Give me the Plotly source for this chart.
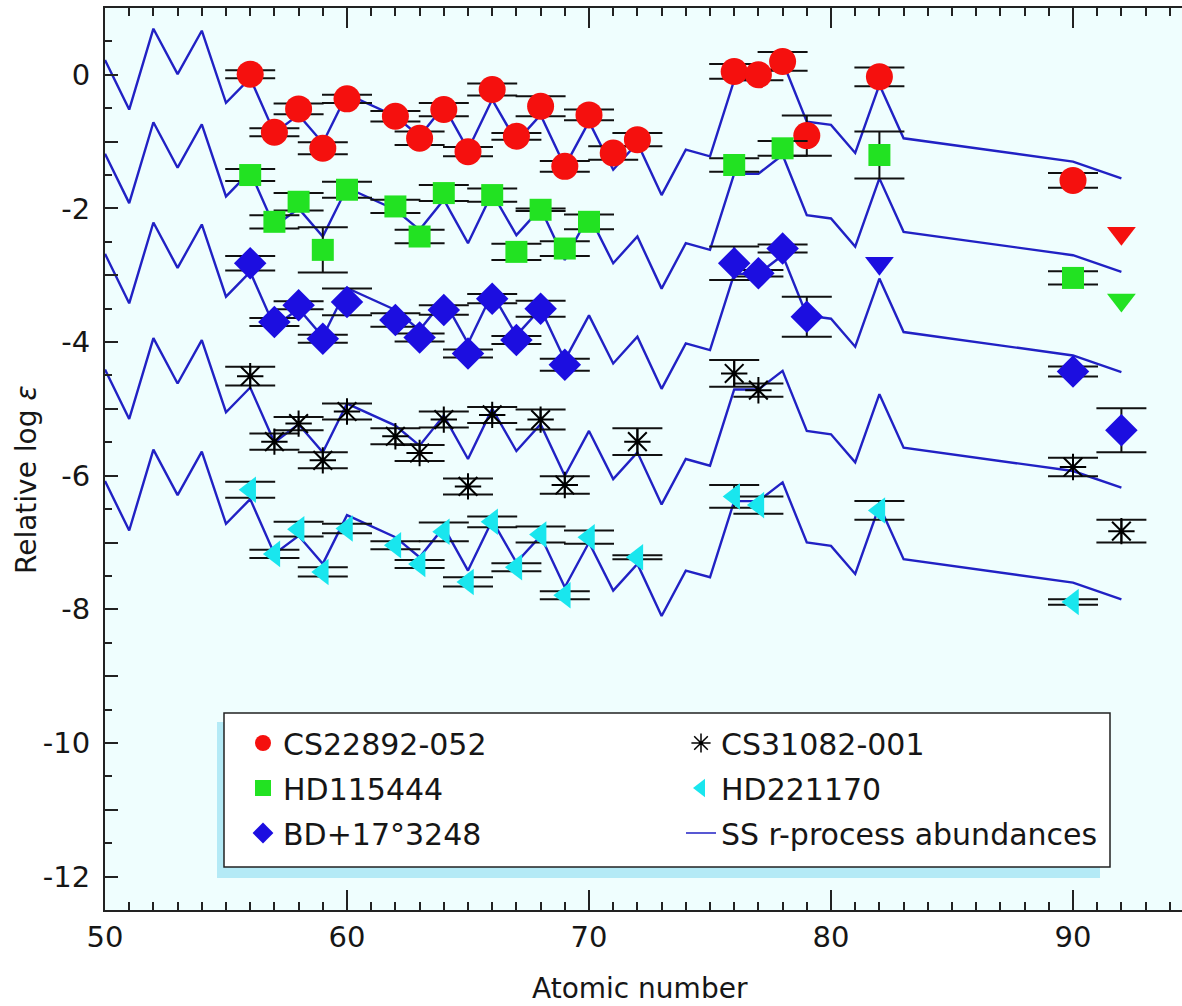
import plotly.graph_objects as go

# ---- Solar-system r-process pattern (top curve) and per-star vertical offsets ----
ss_z = [50, 51, 52, 53, 54, 55, 56, 57, 58, 59, 60, 62, 63, 64, 65, 66, 67, 68, 69, 70,
        71, 72, 73, 74, 75, 76, 77, 78, 79, 80, 81, 82, 83, 90, 92]
ss_logeps = [0.22, -0.52, 0.69, 0.01, 0.66, -0.42, -0.05, -0.87, -0.60, -1.02, -0.29,
             -0.62, -0.92, -0.47, -1.12, -0.37, -1.00, -0.60, -1.37, -0.70, -1.42, -1.02,
             -1.80, -1.12, -1.22, -0.08, -0.08, 0.20, -0.70, -0.75, -1.17, -0.15, -0.95,
             -1.30, -1.55]
ss_offsets = [0.0, -1.40, -2.90, -4.63, -6.30]

# ---- Stellar abundances ----
cs22892_z = [56, 57, 58, 59, 60, 62, 63, 64, 65, 66, 67, 68, 69, 70, 71, 72, 76, 77, 78, 79, 82, 90]
cs22892_y = [0.01, -0.86, -0.51, -1.10, -0.36, -0.62, -0.95, -0.52, -1.15, -0.22, -0.92, -0.47,
             -1.37, -0.60, -1.17, -0.97, 0.05, 0.00, 0.20, -0.91, -0.03, -1.58]
cs22892_err = [0.06, 0.06, 0.08, 0.09, 0.06, 0.08, 0.10, 0.10, 0.07, 0.09, 0.05, 0.15,
               0.08, 0.08, 0.10, 0.10, 0.11, 0.08, 0.14, 0.30, 0.14, 0.11]
cs22892_lim_z = [92]
cs22892_lim_y = [-2.37]

hd115444_z = [56, 57, 58, 59, 60, 62, 63, 64, 66, 67, 68, 69, 70, 76, 78, 82, 90]
hd115444_y = [-1.50, -2.20, -1.90, -2.62, -1.72, -1.97, -2.42, -1.77, -1.80, -2.65, -2.02,
              -2.60, -2.20, -1.35, -1.10, -1.20, -3.04]
hd115444_err = [0.09, 0.10, 0.13, 0.34, 0.12, 0.10, 0.10, 0.12, 0.10, 0.12, 0.02,
                0.11, 0.11, 0.10, 0.11, 0.35, 0.10]
hd115444_lim_z = [92]
hd115444_lim_y = [-3.37]

bd17_z = [56, 57, 58, 59, 60, 62, 63, 64, 65, 66, 67, 68, 69, 76, 77, 78, 79, 90, 92]
bd17_y = [-2.82, -3.70, -3.45, -3.95, -3.40, -3.67, -3.93, -3.52, -4.17, -3.35, -3.97,
          -3.50, -4.34, -2.82, -2.97, -2.60, -3.62, -4.44, -5.32]
bd17_err = [0.11, 0.06, 0.06, 0.06, 0.20, 0.10, 0.06, 0.07, 0.06, 0.07, 0.06, 0.12,
            0.09, 0.25, 0.05, 0.06, 0.30, 0.075, 0.33]
bd17_lim_z = [82]
bd17_lim_y = [-2.82]

cs31082_z = [56, 57, 58, 59, 60, 62, 63, 64, 65, 66, 68, 69, 72, 76, 77, 90, 92]
cs31082_y = [-4.51, -5.49, -5.22, -5.77, -5.04, -5.41, -5.66, -5.16, -6.16, -5.09, -5.16,
             -6.14, -5.49, -4.47, -4.72, -5.87, -6.83]
cs31082_err = [0.14, 0.12, 0.10, 0.12, 0.12, 0.12, 0.12, 0.12, 0.12, 0.12, 0.15, 0.13,
               0.20, 0.20, 0.10, 0.14, 0.17]

hd221170_z = [56, 57, 58, 59, 60, 62, 63, 64, 65, 66, 67, 68, 69, 70, 72, 76, 77, 82, 90]
hd221170_y = [-6.21, -7.17, -6.80, -7.44, -6.79, -7.04, -7.32, -6.84, -7.59, -6.69, -7.37,
              -6.88, -7.79, -6.92, -7.22, -6.31, -6.44, -6.52, -7.89]
hd221170_err = [0.12, 0.06, 0.11, 0.07, 0.07, 0.06, 0.06, 0.14, 0.07, 0.08, 0.06, 0.12,
                0.06, 0.10, 0.03, 0.17, 0.13, 0.14, 0.04]

star_names = ["CS22892-052", "HD115444", "BD+17°3248", "CS31082-001", "HD221170"]
ss_name = "SS r-process abundances"

y_tick_values = list(range(-12, 1))
y_tick_labels = [str(v) if v % 2 == 0 else "" for v in y_tick_values]
x_tick_values = [50, 60, 70, 80, 90]
x_tick_labels = ["50", "60", "70", "80", "90"]

# ---- Styling ----
FONT = "DejaVu Sans"
RED, GREEN, BLUE, BLACK, CYAN = "#f5100e", "#22e222", "#1c0ee0", "#000000", "#19e6ee"
LINE_BLUE = "#2121c4"
PLOT_BG = "#effefe"
INK = "#161616"

W, H = 1182, 1006
M_L, M_R, M_T, M_B = 105, 0, 8, 96
PW, PH = W - M_L - M_R, H - M_T - M_B


def px_x(p):
    return (p - M_L) / PW


def px_y(p):
    return (H - M_B - p) / PH


fig = go.Figure()

# scaled solar-system curves
for off in ss_offsets:
    fig.add_trace(go.Scatter(
        x=ss_z, y=[v + off for v in ss_logeps], mode="lines",
        line=dict(color=LINE_BLUE, width=2.4), showlegend=False, hoverinfo="skip"))


def err(vals):
    return dict(type="data", array=vals, visible=True, color="#111111",
                thickness=2, width=25)


fig.add_trace(go.Scatter(x=cs22892_z, y=cs22892_y, mode="markers", error_y=err(cs22892_err),
                         marker=dict(symbol="circle", size=27, color=RED), showlegend=False))
fig.add_trace(go.Scatter(x=cs22892_lim_z, y=cs22892_lim_y, mode="markers",
                         marker=dict(symbol="triangle-down", size=25, color=RED), showlegend=False))

fig.add_trace(go.Scatter(x=hd115444_z, y=hd115444_y, mode="markers", error_y=err(hd115444_err),
                         marker=dict(symbol="square", size=22, color=GREEN), showlegend=False))
fig.add_trace(go.Scatter(x=hd115444_lim_z, y=hd115444_lim_y, mode="markers",
                         marker=dict(symbol="triangle-down", size=25, color=GREEN), showlegend=False))

fig.add_trace(go.Scatter(x=bd17_z, y=bd17_y, mode="markers", error_y=err(bd17_err),
                         marker=dict(symbol="diamond", size=25, color=BLUE), showlegend=False))
fig.add_trace(go.Scatter(x=bd17_lim_z, y=bd17_lim_y, mode="markers",
                         marker=dict(symbol="triangle-down", size=25, color=BLUE), showlegend=False))

fig.add_trace(go.Scatter(x=cs31082_z, y=cs31082_y, mode="markers", error_y=err(cs31082_err),
                         marker=dict(symbol="asterisk-open", size=22, color=BLACK,
                                     line=dict(color=BLACK, width=2)), showlegend=False))

fig.add_trace(go.Scatter(x=hd221170_z, y=hd221170_y, mode="markers", error_y=err(hd221170_err),
                         marker=dict(symbol="triangle-left", size=23, color=CYAN), showlegend=False))

# legend entries (two columns -> two legends)
leg_font = dict(family=FONT, size=30, color=INK)
entries = [
    ("legend", star_names[0], dict(symbol="circle", size=16, color=RED), None),
    ("legend", star_names[1], dict(symbol="square", size=16, color=GREEN), None),
    ("legend", star_names[2], dict(symbol="diamond", size=16, color=BLUE), None),
    ("legend2", star_names[3], dict(symbol="asterisk-open", size=16, color=BLACK,
                                    line=dict(color=BLACK, width=1.5)), None),
    ("legend2", star_names[4], dict(symbol="triangle-left", size=16, color=CYAN), None),
    ("legend2", ss_name, None, dict(color=LINE_BLUE, width=1.5)),
]
for i, (lg, name, mk, ln) in enumerate(entries):
    if ln is None:
        fig.add_trace(go.Scatter(x=[None], y=[None], mode="markers", name=name, marker=mk,
                                 legend=lg, legendgroup=f"g{i}", showlegend=True))
    else:
        fig.add_trace(go.Scatter(x=[None], y=[None], mode="lines", name=name, line=ln,
                                 legend=lg, legendgroup=f"g{i}", showlegend=True))

# legend frame with offset shadow
fig.add_shape(type="rect", xref="paper", yref="paper",
              x0=px_x(217), x1=px_x(1100), y0=px_y(878), y1=px_y(722),
              fillcolor="#b4eaf6", line=dict(width=0), layer="below")
fig.add_shape(type="rect", xref="paper", yref="paper",
              x0=px_x(224), x1=px_x(1110), y0=px_y(867), y1=px_y(713),
              fillcolor="#ffffff", line=dict(color="#222222", width=1.5), layer="below")

common_leg = dict(bgcolor="rgba(0,0,0,0)", borderwidth=0, font=leg_font,
                  tracegroupgap=3, traceorder="grouped", itemsizing="trace",
                  xanchor="left", yanchor="top", valign="middle")

fig.update_layout(
    width=W, height=H,
    margin=dict(l=M_L, r=M_R, t=M_T, b=M_B),
    paper_bgcolor="#ffffff", plot_bgcolor=PLOT_BG,
    font=dict(family=FONT, size=29, color=INK),
    legend=dict(x=px_x(243), y=px_y(717), **common_leg),
    legend2=dict(x=px_x(681), y=px_y(717), **common_leg),
    xaxis=dict(range=[50, 50 + PW / 24.2], tickvals=x_tick_values, ticktext=x_tick_labels,
               ticks="inside", ticklen=20,
               tickwidth=1.5, tickcolor="#222222", showline=True, linecolor="#222222",
               linewidth=2, mirror="ticks", showgrid=False, zeroline=False,
               ticklabelstandoff=0, tickfont=dict(family=FONT, size=29, color=INK),
               minor=dict(dtick=1, tick0=50, ticks="inside", ticklen=8, tickwidth=1.5,
                          tickcolor="#222222", showgrid=False)),
    yaxis=dict(range=[-12.5, 1.0], tickvals=y_tick_values, ticktext=y_tick_labels,
               ticks="inside", ticklen=13, tickwidth=1.5, tickcolor="#222222",
               showline=True, linecolor="#222222", linewidth=2, mirror=False,
               showgrid=False, zeroline=False, ticklabelstandoff=7,
               tickfont=dict(family=FONT, size=29, color=INK),
               minor=dict(dtick=0.5, tick0=0, ticks="inside", ticklen=7, tickwidth=1.5,
                          tickcolor="#222222", showgrid=False)),
    annotations=[
        dict(text="Relative log <i>ε</i>", xref="paper", yref="paper",
             x=px_x(27), y=px_y(480), xanchor="center", yanchor="middle",
             textangle=-90, showarrow=False,
             font=dict(family=FONT, size=28, color=INK)),
        dict(text="Atomic number", xref="paper", yref="paper",
             x=px_x(640), y=px_y(988), xanchor="center", yanchor="middle",
             showarrow=False, font=dict(family=FONT, size=28, color=INK)),
    ],
)

fig.write_html("out.html")
